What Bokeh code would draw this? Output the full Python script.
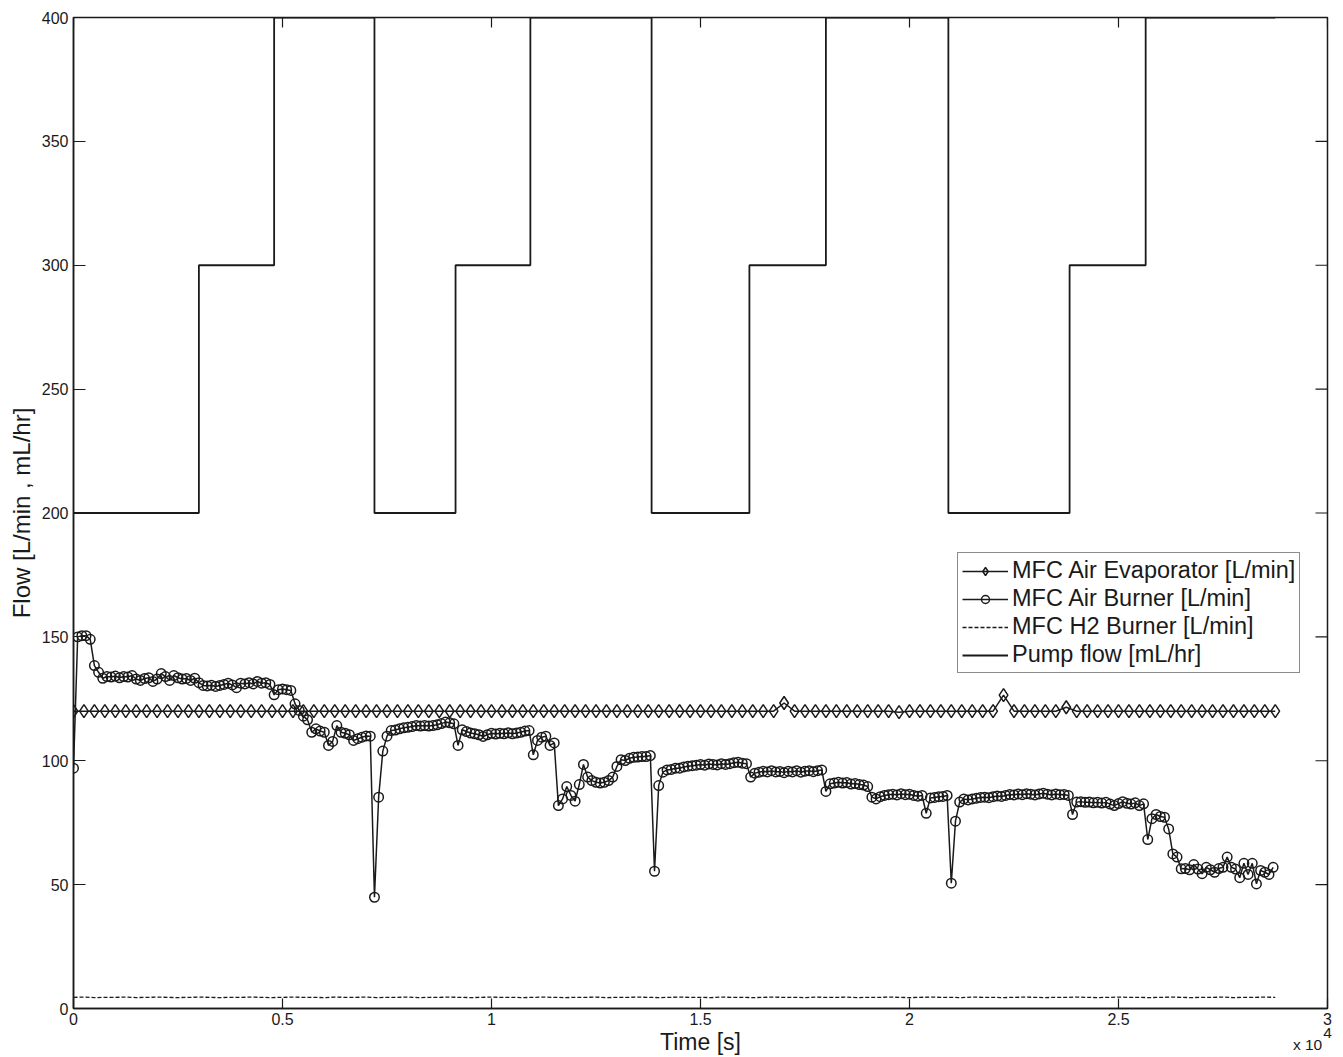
from bokeh.plotting import figure
from bokeh.models import (FixedTicker, Legend, LegendItem, Label, Range1d)
from bokeh.embed import file_html
from bokeh.resources import INLINE

# ---------------- data ----------------
x_ticks = [0, 5000, 10000, 15000, 20000, 25000, 30000]
x_tick_labels = ["0", "0.5", "1", "1.5", "2", "2.5", "3"]
y_ticks = [0, 50, 100, 150, 200, 250, 300, 350, 400]

pump_time = [0, 3000, 4800, 7200, 9140, 10930, 13830, 16170, 18000, 20930, 23830, 25650, 28750]
pump_flow = [200, 300, 400, 200, 300, 400, 200, 300, 400, 200, 300, 400, 400]

evap_time = list(range(0, 28751, 250))
evap_flow = [
    120, 120, 120, 120, 120, 120, 120, 120, 120, 120,
    120, 120, 120, 120, 120, 120, 120, 120, 120, 120,
    120, 120, 120, 120, 120, 120, 120, 120, 120, 120,
    120, 120, 120, 120, 120, 120, 120, 120, 120, 120,
    120, 120, 120, 120, 120, 120, 120, 120, 120, 120,
    120, 120, 120, 120, 120, 120, 120, 120, 120, 120,
    120, 120, 120, 120, 120, 120, 120, 120, 123.3, 120,
    120, 120, 120, 120, 120, 120, 120, 120, 120, 119.6,
    120, 120, 120, 120, 120, 120, 120, 120, 120, 126.5,
    120, 120, 120, 120, 120, 121.6, 120, 120, 120, 120,
    120, 120, 120, 120, 120, 120, 120, 120, 120, 120,
    120, 120, 120, 120, 120, 120,
]

burner_time = list(range(0, 28701, 100))
burner_flow = [
    97, 150, 150.5, 150.5, 149, 138.4, 135.7, 133.3, 134, 133.8,
    134.2, 133.5, 134, 133.8, 134.4, 133, 132.4, 133.2, 133.5, 132,
    133, 135.2, 134, 132.4, 134.4, 133.5, 133, 133.2, 132.4, 133.3,
    131.5, 130.4, 130.2, 130.5, 130, 130.4, 130.8, 131.3, 130.6, 129.5,
    131.3, 131, 131.5, 131, 132, 131.3, 131.5, 130.8, 126.6, 128.7,
    129, 128.7, 128.4, 123, 120.3, 118, 116.5, 111.5, 112.9, 112,
    111.5, 106.2, 107.8, 114.2, 111.5, 111.1, 110.5, 108.2, 108.9, 109.5,
    110, 109.9, 44.9, 85.3, 103.9, 109.9, 112.2, 112.4, 112.9, 113.3,
    113.5, 113.8, 114.2, 114, 114.2, 114, 114.2, 114.5, 115, 115.6,
    115.3, 114.9, 106.2, 112.5, 111.8, 111.2, 110.9, 110.5, 109.8, 110.5,
    111.1, 110.8, 111.1, 110.9, 111.3, 110.9, 111.2, 111.5, 112, 112.2,
    102.4, 108.2, 109.5, 109.9, 106.2, 107.2, 81.9, 84.6, 89.6, 86,
    83.7, 90.4, 98.5, 93.4, 92, 91.3, 91, 91.3, 92, 93.4,
    97.7, 100.4, 100.1, 101, 101.4, 101.5, 101.7, 101.7, 102.1, 55.4,
    90, 95.4, 96.3, 96.5, 97, 97, 97.5, 97.8, 98, 98.2,
    98.5, 98.2, 98.7, 98.5, 98.3, 98.8, 98.5, 98.8, 99.2, 99.4,
    99, 98.8, 93.4, 95, 95.4, 95.8, 95.5, 96, 95.5, 95.7,
    95.2, 95.8, 95.5, 96, 95.4, 95.8, 96, 95.6, 96, 96.3,
    87.6, 90.7, 91, 91.3, 91, 91.2, 90.6, 90.8, 90.4, 90.2,
    89.6, 85.3, 84.6, 85.5, 86, 86.3, 86.5, 86.2, 86.7, 86.3,
    86.5, 86, 85.7, 86, 78.8, 85, 85.2, 85.5, 85.6, 86,
    50.6, 75.6, 83.3, 84.6, 84.2, 84.6, 84.9, 85.2, 85.3, 85.1,
    85.5, 85.8, 85.6, 86, 86.4, 86.2, 86.6, 86.3, 86.7, 86.5,
    86.2, 86.6, 86.9, 86.5, 86.2, 86.6, 86.3, 86.4, 86, 78.3,
    83.3, 83.5, 83.2, 83.3, 83, 83.2, 82.9, 83.2, 82.5, 81.9,
    82.7, 83.5, 82.8, 82.5, 83, 81.9, 82.6, 68.2, 76.6, 78.3,
    77.5, 77.2, 72.5, 62.4, 61.1, 56.4, 56.5, 56, 58.1, 56.3,
    54.4, 57, 56, 55, 56.5, 57, 61.1, 57, 56.3, 52.8,
    58.6, 54.1, 58.6, 50.3, 55.7, 55, 54.1, 57,
]

h2_time = list(range(0, 28751, 250))
h2_flow = [
    4.5, 4.6, 4.4, 4.5, 4.5, 4.6, 4.4, 4.5, 4.6, 4.5,
    4.4, 4.5, 4.6, 4.5, 4.4, 4.5, 4.5, 4.6, 4.5, 4.4,
    4.5, 4.6, 4.5, 4.5, 4.4, 4.6, 4.5, 4.5, 4.6, 4.4,
    4.5, 4.5, 4.6, 4.4, 4.5, 4.5, 4.6, 4.5, 4.4, 4.5,
    4.6, 4.5, 4.5, 4.4, 4.5, 4.6, 4.5, 4.4, 4.5, 4.5,
    4.6, 4.4, 4.5, 4.5, 4.6, 4.5, 4.4, 4.5, 4.6, 4.5,
    4.5, 4.4, 4.6, 4.5, 4.5, 4.4, 4.5, 4.6, 4.5, 4.5,
    4.4, 4.6, 4.5, 4.5, 4.6, 4.4, 4.5, 4.5, 4.6, 4.5,
    4.4, 4.5, 4.6, 4.5, 4.5, 4.4, 4.6, 4.5, 4.5, 4.4,
    4.5, 4.6, 4.5, 4.4, 4.5, 4.5, 4.6, 4.5, 4.4, 4.5,
    4.6, 4.5, 4.5, 4.4, 4.5, 4.6, 4.5, 4.4, 4.5, 4.5,
    4.6, 4.4, 4.5, 4.5, 4.6, 4.5,
]

# ---------------- style ----------------
C = "#1a1a1a"
FONT = "Liberation Sans"
W, H = 1340, 1057
X0, X1, Y0, Y1 = 0, 30000, 0, 400

p = figure(width=W, height=H,
           x_range=Range1d(X0, X1), y_range=Range1d(Y0, Y1),
           output_backend="svg", toolbar_location=None,
           min_border_left=73, min_border_right=13,
           min_border_top=17, min_border_bottom=49)
p.xgrid.visible = False
p.ygrid.visible = False
p.outline_line_color = C
p.outline_line_width = 1.5
p.background_fill_color = "white"
p.border_fill_color = "white"

# primary axes
xa = p.xaxis[0]
xa.ticker = FixedTicker(ticks=x_ticks)
xa.major_label_overrides = {t: l for t, l in zip(x_ticks, x_tick_labels)}
xa.axis_label = "Time [s]"
xa.axis_label_text_font = FONT
xa.axis_label_text_font_size = "23px"
xa.axis_label_text_font_style = "normal"
xa.axis_label_text_color = C
xa.axis_label_standoff = 1

ya = p.yaxis[0]
ya.ticker = FixedTicker(ticks=y_ticks)
ya.axis_label = "Flow [L/min , mL/hr]"
ya.axis_label_text_font = FONT
ya.axis_label_text_font_size = "24px"
ya.axis_label_text_font_style = "normal"
ya.axis_label_text_color = C
ya.axis_label_standoff = 4

XT, YT = 10, 12  # inward tick lengths in px
for ax, tin, so in ((xa, XT, 4), (ya, YT, 5)):
    ax.axis_line_color = C
    ax.axis_line_width = 1.5
    ax.major_tick_in = tin
    ax.major_tick_out = 0
    ax.major_tick_line_color = C
    ax.major_tick_line_width = 1.2
    ax.minor_tick_line_color = None
    ax.major_label_text_font = FONT
    ax.major_label_text_font_size = "16px"
    ax.major_label_text_color = C
    ax.major_label_standoff = so

# mirrored inward ticks on the top and right edges of the box
frame_w = W - 73 - 13
frame_h = H - 17 - 49
dy_tick = XT * (Y1 - Y0) / frame_h
dx_tick = YT * (X1 - X0) / frame_w
p.segment(x0=x_ticks, y0=[Y1] * len(x_ticks), x1=x_ticks, y1=[Y1 - dy_tick] * len(x_ticks),
          line_color=C, line_width=1.2)
p.segment(x0=[X1] * len(y_ticks), y0=y_ticks, x1=[X1 - dx_tick] * len(y_ticks), y1=y_ticks,
          line_color=C, line_width=1.2)

# series
r_pump = p.step(pump_time, pump_flow, mode="after", line_color=C, line_width=1.8)
r_evap_l = p.line(evap_time, evap_flow, line_color=C, line_width=1.5)
r_evap_m = p.scatter(evap_time, evap_flow, marker="diamond", size=13,
                     fill_color=None, line_color=C, line_width=1.5)
r_burn_l = p.line(burner_time, burner_flow, line_color=C, line_width=1.5)
r_burn_m = p.scatter(burner_time, burner_flow, marker="circle", size=9.5,
                     fill_color=None, line_color=C, line_width=1.5)
r_h2 = p.line(h2_time, h2_flow, line_color=C, line_width=1.3, line_dash="4 2")

legend = Legend(items=[
    LegendItem(label="MFC Air Evaporator [L/min]", renderers=[r_evap_l, r_evap_m]),
    LegendItem(label="MFC Air Burner [L/min]", renderers=[r_burn_l, r_burn_m]),
    LegendItem(label="MFC H2 Burner [L/min]", renderers=[r_h2]),
    LegendItem(label="Pump flow [mL/hr]", renderers=[r_pump]),
], location=(884, 335))
legend.border_line_color = C
legend.border_line_width = 1.2
legend.background_fill_color = "white"
legend.background_fill_alpha = 1.0
legend.label_text_font = FONT
legend.label_text_font_size = "23.5px"
legend.label_text_color = C
legend.glyph_width = 46
legend.glyph_height = 20
legend.label_height = 25
legend.label_standoff = 4
legend.padding = 4
legend.spacing = 1
legend.margin = 0
p.add_layout(legend)

# axis multiplier "x 10^4": labels live in side panels so they are not clipped to the frame
p.add_layout(Label(x=29873, y=-14.5, text="x 10", text_align="right",
                   text_baseline="middle", text_font=FONT, text_font_size="15.5px",
                   text_color=C), "above")
p.add_layout(Label(x=29897, y=-9.7, text="4", text_align="left",
                   text_baseline="middle", text_font=FONT, text_font_size="15.5px",
                   text_color=C), "right")

open("out.html", "w").write(file_html(p, INLINE))
